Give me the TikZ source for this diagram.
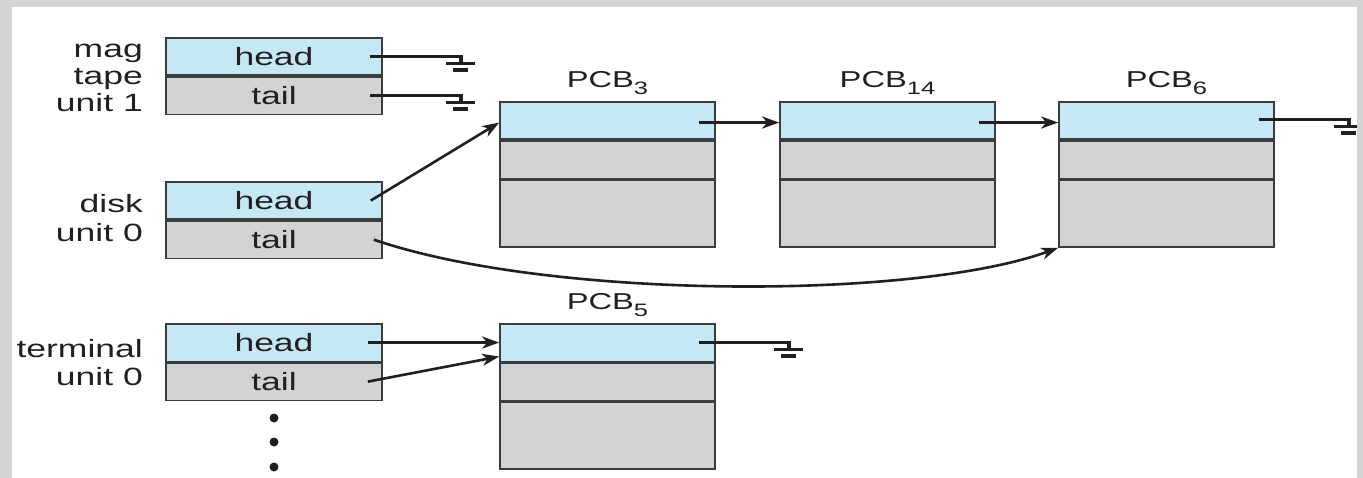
\documentclass[tikz,border=0pt]{standalone}
\usepackage{fontspec}
\setmainfont{Liberation Sans}[FakeStretch=1.42]
\usetikzlibrary{arrows.meta}
\definecolor{cellblue}{HTML}{C5E8F7}
\definecolor{cellgray}{HTML}{D1D3D4}
\definecolor{boxline}{HTML}{3C3C3C}
\definecolor{txt}{HTML}{231F20}
\definecolor{framegray}{HTML}{D4D4D4}
\newcommand{\pcbsub}[1]{\raisebox{-7pt}{\fontsize{18}{18}\selectfont #1}}
\tikzset{
  cell/.style={draw=boxline, line width=1.6pt, minimum width=216pt, inner sep=0pt,
    text=txt, font=\fontsize{25}{27}\selectfont},
  headc/.style={cell, fill=cellblue, minimum height=37.5pt, anchor=north},
  tailc/.style={cell, fill=cellgray, minimum height=37.5pt, anchor=north},
  pcbcell/.style={draw=boxline, line width=1.6pt, minimum width=215pt, inner sep=0pt, anchor=north},
  pcbtop/.style={pcbcell, fill=cellblue, minimum height=37.5pt},
  pcbmid/.style={pcbcell, fill=cellgray, minimum height=37.5pt},
  pcbbot/.style={pcbcell, fill=cellgray, minimum height=67pt},
  pcblbl/.style={anchor=base, inner sep=0pt, text=txt, font=\fontsize{23}{25}\selectfont},
  lbl/.style={anchor=base east, inner sep=0pt, text=txt, font=\fontsize{25}{27}\selectfont},
  conn/.style={draw=txt, line width=3.4pt},
  thinconn/.style={draw=txt, line width=2.6pt},
  tip/.style={-{Stealth[length=17pt,width=12pt,inset=5pt]}},
  gline/.style={draw=txt, line width=3.6pt},
  dot/.style={circle, fill=txt, inner sep=0pt, minimum size=9pt},
  gnd/.pic={
    \draw[gline] (0,-1.7) -- (0,7);
    \draw[gline] (-14.5,7) -- (14.5,7);
    \draw[gline] (-7.5,13.5) -- (7.5,13.5);
  }
}
\begin{document}
\begin{tikzpicture}[x=1pt,y=-1pt]
\useasboundingbox (0,0) rectangle (1363,478);
\fill[framegray] (0,0) rectangle (1363,478);
\fill[white] (12,7) rectangle (1357,478);
\begin{scope}
\clip (12,7) rectangle (1357,478);

% device labels
\node[lbl] (l1a) at (143,58) {mag};
\node[lbl] (l1b) at (143,85) {tape};
\node[lbl] (l1c) at (143,112) {unit 1};
\node[lbl] (l2a) at (143,213) {disk};
\node[lbl] (l2b) at (143,242) {unit 0};
\node[lbl] (l3a) at (143,357) {terminal};
\node[lbl] (l3b) at (143,385) {unit 0};

% queue headers
\node[headc] (mh) at (274,37) {head};
\node[tailc] (mt) at (mh.south) {tail};
\node[headc] (dh) at (274,181) {head};
\node[tailc] (dt) at (dh.south) {tail};
\node[headc] (th) at (274,323) {head};
\node[tailc] (tt) at (th.south) {tail};

\node[dot] (d1) at (274,418) {};
\node[dot] (d2) at (274,442) {};
\node[dot] (d3) at (274,467) {};

% PCBs
\node[pcbtop] (p3a) at (607.5,101) {};
\node[pcbmid] (p3b) at (p3a.south) {};
\node[pcbbot] (p3c) at (p3b.south) {};
\node[pcblbl] (p3l) at (607.5,88) {PCB\pcbsub{3}};

\node[pcbtop] (p14a) at (887.5,101) {};
\node[pcbmid] (p14b) at (p14a.south) {};
\node[pcbbot] (p14c) at (p14b.south) {};
\node[pcblbl] (p14l) at (887.5,88) {PCB\pcbsub{14}};

\node[pcbtop] (p6a) at (1166.5,101) {};
\node[pcbmid] (p6b) at (p6a.south) {};
\node[pcbbot] (p6c) at (p6b.south) {};
\node[pcblbl] (p6l) at (1166.5,88) {PCB\pcbsub{6}};

\node[pcbtop] (p5a) at (607.5,323) {};
\node[pcbmid] (p5b) at (p5a.south) {};
\node[pcbbot] (p5c) at (p5b.south) {};
\node[pcblbl] (p5l) at (607.5,310) {PCB\pcbsub{5}};

% ground coordinates
\coordinate (g1) at ([xshift=78pt]mh.east);
\coordinate (g2) at ([xshift=78pt]mt.east);
\coordinate (g3) at ([xshift=74pt,yshift=1pt]p6a.east);
\coordinate (g4) at ([xshift=73pt]p5a.east);

% connectors
\draw[conn] ([xshift=-13pt]mh.east) -- (g1);
\pic at (g1) {gnd};
\draw[conn] ([xshift=-13pt]mt.east) -- (g2);
\pic at (g2) {gnd};

\draw[thinconn,tip] ([xshift=-12pt]dh.east) -- ([yshift=-2pt]p3a.west);
\draw[thinconn,tip] ([xshift=-9pt]dt.east) .. controls (550,300) and (915,300) .. (p6c.south west);

\draw[conn,tip] ([xshift=-17pt,yshift=-2pt]p3a.east) -- ([yshift=-2pt]p14a.west);
\draw[conn,tip] ([xshift=-17pt,yshift=-2pt]p14a.east) -- ([yshift=-2pt]p6a.west);
\draw[conn] ([xshift=-16pt,yshift=1pt]p6a.east) -- (g3);
\pic at (g3) {gnd};

\draw[conn,tip] ([xshift=-15pt]th.east) -- (p5a.west);
\draw[thinconn,tip] ([xshift=-15pt]tt.east) -- ([yshift=-14pt]p5a.west);
\draw[conn] ([xshift=-17pt]p5a.east) -- (g4);
\pic at (g4) {gnd};
\end{scope}
\end{tikzpicture}
\end{document}
